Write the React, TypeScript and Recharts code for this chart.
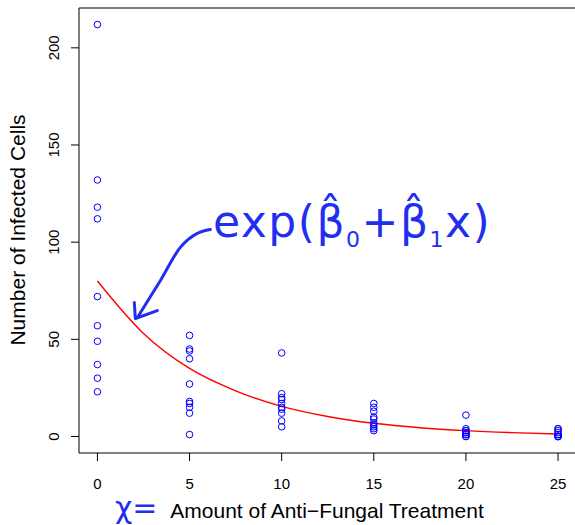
import { ComposedChart, Scatter, Line, XAxis, YAxis, ReferenceLine } from 'recharts';

// anti-fungal dose levels and the infected-cell counts seen at each
const doses = [0, 5, 10, 15, 20, 25];
const countsAt0 = [212, 132, 118, 112, 72, 57, 49, 37, 30, 23];
const countsAt5 = [52, 45, 44, 40, 27, 18, 17, 15, 12, 1];
const countsAt10 = [43, 22, 20, 19, 17, 15, 14, 12, 8, 5];
const countsAt15 = [17, 15, 13, 10, 9, 7, 6, 5, 4, 3];
const countsAt20 = [11, 4, 3, 3, 2, 2, 1, 1, 0, 0];
const countsAt25 = [4, 4, 3, 2, 1, 1, 0, 0, 0, 0];

// fitted curve exp(b0 + b1 x)
const curveX = [0, 2.5, 5, 7.5, 10, 12.5, 15, 17.5, 20, 22.5, 25];
const curveY = [80, 53, 35, 23.5, 15.5, 10.3, 6.8, 4.5, 3, 2, 1.3];

// hand-drawn arrow (data units)
const arrowShaftX = [2.17, 3.42, 4.5, 5.42, 6.13];
const arrowShaftY = [61.2, 80.3, 97.3, 104.5, 106.5];
const arrowHeadX = [2.0, 2.06, 3.25];
const arrowHeadY = [69, 60.7, 64.8];

const xTicks = [0, 5, 10, 15, 20, 25];
const yTicks = [0, 50, 100, 150, 200];

const allCounts = [countsAt0, countsAt5, countsAt10, countsAt15, countsAt20, countsAt25];
const points = doses.flatMap((d, i) => allCounts[i].map(c => ({ x: d, y: c })));
const curve = curveX.map((x, i) => ({ x, y: curveY[i] }));
const shaft = arrowShaftX.map((x, i) => ({ x, y: arrowShaftY[i] }));
const head = arrowHeadX.map((x, i) => ({ x, y: arrowHeadY[i] }));

const FONT = '"Liberation Sans", Arial, Helvetica, sans-serif';
const INK = '#1f2ff0';

function OpenCircle({ cx, cy }: any) {
  return <circle cx={cx} cy={cy} r={3.3} fill="none" stroke="#0000ff" strokeWidth={1} />;
}

function XTick({ x, payload }: any) {
  return (
    <text x={x} y={489} textAnchor="middle" fontSize={15} fontFamily={FONT} fill="#000">
      {payload.value}
    </text>
  );
}

function YTick({ y, payload }: any) {
  const tx = 59;
  return (
    <text x={tx} y={y} transform={`rotate(-90 ${tx} ${y})`} textAnchor="middle" fontSize={15} fontFamily={FONT} fill="#000">
      {payload.value}
    </text>
  );
}

export default function App() {
  return (
    <div style={{ position: 'absolute', left: 0, top: 0, width: 575, height: 525, background: '#fff' }}>
      <ComposedChart width={575} height={525} margin={{ top: 8, right: 0, left: 0, bottom: 0 }}>
        <XAxis
          dataKey="x"
          type="number"
          domain={[-1, 25.92]}
          ticks={xTicks}
          tickSize={8}
          tick={<XTick />}
          height={72}
          stroke="#000"
          allowDataOverflow
          label={{
            content: () => (
              <g>
                <text x={115} y={518} fontSize={30} fill={INK} fontFamily='"DejaVu Sans", sans-serif'>
                  χ=
                </text>
                <text x={327} y={518} textAnchor="middle" fontSize={21} fontFamily={FONT} fill="#000">
                  Amount of Anti−Fungal Treatment
                </text>
              </g>
            ),
          }}
        />
        <YAxis
          dataKey="y"
          type="number"
          domain={[-8.5, 220.5]}
          ticks={yTicks}
          tickSize={8}
          tick={<YTick />}
          width={79}
          stroke="#000"
          allowDataOverflow
          label={{
            content: () => (
              <text x={25} y={230} transform="rotate(-90 25 230)" textAnchor="middle" fontSize={21} fontFamily={FONT} fill="#000">
                Number of Infected Cells
              </text>
            ),
          }}
        />
        <ReferenceLine y={220.5} stroke="#000" ifOverflow="visible" />
        <Line data={curve} dataKey="y" type="monotone" stroke="#ff0000" strokeWidth={1.4} dot={false} isAnimationActive={false} />
        <Scatter data={points} dataKey="y" shape={<OpenCircle />} isAnimationActive={false} />
        <Line data={shaft} dataKey="y" type="monotone" stroke={INK} strokeWidth={3} strokeLinecap="round" dot={false} isAnimationActive={false} />
        <Line data={head} dataKey="y" type="linear" stroke={INK} strokeWidth={3} strokeLinecap="round" strokeLinejoin="round" dot={false} isAnimationActive={false} />
      </ComposedChart>
      <div
        style={{
          position: 'absolute',
          left: 213,
          top: 195,
          fontFamily: '"DejaVu Sans", sans-serif',
          fontSize: 44,
          letterSpacing: 1.5,
          color: INK,
          whiteSpace: 'nowrap',
          lineHeight: '54px',
        }}
      >
        exp(β̂<sub style={{ fontSize: 22 }}>0</sub>+β̂<sub style={{ fontSize: 22 }}>1</sub>x)
      </div>
    </div>
  );
}
